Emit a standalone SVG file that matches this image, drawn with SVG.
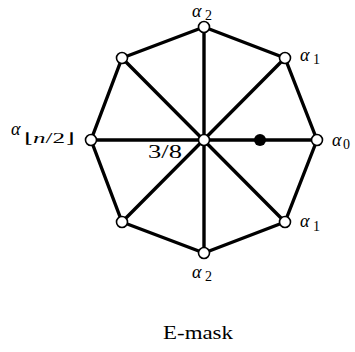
<svg xmlns="http://www.w3.org/2000/svg" width="355" height="352" viewBox="0 0 355 352">
<style>
.e{stroke:#000;stroke-width:3.4;fill:none;stroke-linecap:round;stroke-linejoin:round}
.v{fill:#fff;stroke:#000;stroke-width:1.6}
.a{font-family:"Liberation Serif",serif;font-style:italic;font-size:18px;fill:#000}
.s{font-family:"Liberation Serif",serif;font-size:14px;fill:#000}
.t{font-family:"Liberation Serif",serif;fill:#000}
</style>
<rect width="355" height="352" fill="#fff"/>
<g id="connectors">
<polygon class="e" points="204,27 285,58 317,140 285,222 204,253 122,222 91,140 122,58"/>
<line class="e" x1="204" y1="27" x2="204" y2="253"/>
<line class="e" x1="285" y1="58" x2="122" y2="222"/>
<line class="e" x1="91" y1="140" x2="317" y2="140"/>
<line class="e" x1="122" y1="58" x2="285" y2="222"/>
</g>
<g id="n-top"><circle class="v" cx="204" cy="27" r="5.5"/><text class="a" x="192" y="17">α</text><text class="s" x="205" y="20">2</text></g>
<g id="n-ur"><circle class="v" cx="285" cy="58" r="5.5"/><text class="a" x="300" y="61">α</text><text class="s" x="313" y="64">1</text></g>
<g id="n-r"><circle class="v" cx="317" cy="140" r="5.5"/><text class="a" x="332" y="146">α</text><text class="s" x="343" y="149">0</text></g>
<g id="n-lr"><circle class="v" cx="285" cy="222" r="5.5"/><text class="a" x="300" y="227">α</text><text class="s" x="313" y="231">1</text></g>
<g id="n-b"><circle class="v" cx="204" cy="253" r="5.5"/><text class="a" x="192" y="278">α</text><text class="s" x="205" y="281">2</text></g>
<g id="n-ll"><circle class="v" cx="122" cy="222" r="5.5"/></g>
<g id="n-l"><circle class="v" cx="91" cy="140" r="5.5"/><text class="a" x="11" y="135">α</text><text class="s" x="24" y="143" textLength="50" lengthAdjust="spacingAndGlyphs">⌊<tspan font-style="italic">n</tspan>/2⌋</text></g>
<g id="n-ul"><circle class="v" cx="122" cy="58" r="5.5"/></g>
<g id="n-c"><circle class="v" cx="204" cy="140" r="5.5"/><text class="t" x="148" y="158" font-size="18" textLength="34" lengthAdjust="spacingAndGlyphs">3/8</text></g>
<g id="n-dot"><circle cx="260" cy="140" r="6" fill="#000"/></g>
<text class="t" x="163" y="339" font-size="19" textLength="70" lengthAdjust="spacingAndGlyphs">E-mask</text>
</svg>
